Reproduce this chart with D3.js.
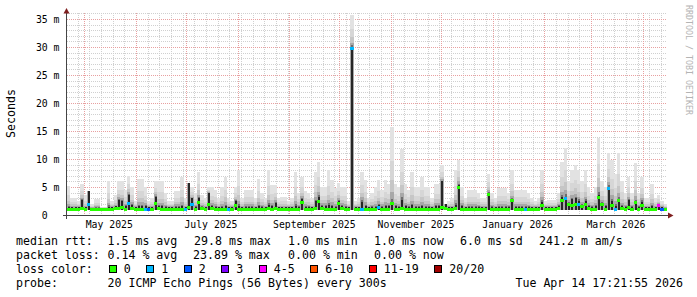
<!DOCTYPE html>
<html><head><meta charset="utf-8">
<script src="https://cdn.jsdelivr.net/npm/d3@7"></script>
<style>
body{margin:0;background:#fff}
svg{display:block}
text{font-family:"DejaVu Sans Mono",monospace;fill:#000}
</style>
</head><body>
<svg id="c" width="697" height="297"></svg>
<script>
// ---------------- data ----------------
const xStart = new Date(Date.UTC(2025, 3, 20, 15, 0, 0));
const spanDays = 360;
const bucketDays = 2;

// top of the smoke (slowest pings), ms, one value per 2-day bucket
const smokeHi = [
 5.2,3.0,3.0,2.5,5.6,3.5,4.3,2.0,2.9,2.9,
 1.5,1.5,6.0,2.5,3.5,6.0,6.0,4.5,7.0,5.0,
 2.5,6.4,6.4,5.0,2.5,3.0,6.0,6.0,6.0,4.0,
 2.5,2.5,4.2,4.2,6.8,3.0,5.8,5.0,4.0,7.7,
 3.5,3.0,5.0,5.0,4.5,3.0,5.0,6.8,3.0,2.5,
 5.0,8.0,3.0,4.5,4.5,4.5,3.0,6.5,4.0,3.0,
 8.0,5.4,5.4,3.0,3.3,3.3,2.5,3.0,7.7,4.0,
 6.8,4.2,4.0,3.0,7.7,9.5,5.0,5.0,8.0,6.2,
 4.8,5.8,5.0,5.0,2.5,35.7,2.5,3.0,7.7,6.2,
 3.0,4.0,5.0,6.2,4.5,6.2,5.5,15.8,5.5,5.0,
 11.7,5.5,4.5,7.7,5.0,5.0,6.8,5.0,5.0,3.0,
 5.6,5.6,8.9,2.0,2.5,3.0,8.0,9.8,5.0,3.0,
 4.5,4.5,4.5,4.0,3.0,3.0,7.4,4.0,3.0,4.8,
 4.8,4.8,4.0,8.0,4.5,4.5,4.5,4.5,4.0,3.0,
 2.5,3.0,8.0,2.5,2.7,2.7,2.7,4.0,9.5,11.9,
 6.0,8.0,8.9,8.0,6.0,8.0,5.0,4.0,5.0,13.7,
 6.0,5.0,11.0,9.8,7.4,11.0,6.0,4.0,6.8,4.0,
 9.2,4.0,6.8,3.0,3.0,5.6,3.0,3.6,2.5,2.0];

// top of the dark smoke core, ms
const smokeCore = [
 1.4,1.4,1.4,1.4,2.7,1.4,4.2,1.3,1.3,1.3,
 1.2,1.2,1.5,1.4,1.6,2.7,2.5,1.6,3.6,1.8,
 1.4,1.6,1.6,1.6,1.4,1.4,3.3,1.6,1.6,1.5,
 1.4,1.4,1.5,1.5,1.6,1.4,5.7,3.0,1.5,3.0,
 1.5,1.4,3.9,1.6,1.5,1.4,1.5,1.6,1.4,1.4,
 2.5,1.6,1.4,1.5,1.5,1.5,1.4,1.6,1.5,1.4,
 1.8,1.6,2.2,1.4,1.4,1.4,1.4,1.4,1.6,1.5,
 2.8,1.5,1.5,1.4,2.5,3.3,1.6,1.6,1.8,1.6,
 1.5,2.5,1.6,1.5,1.4,30.0,1.4,1.4,2.4,1.6,
 1.4,1.5,1.5,1.8,1.5,1.6,1.6,2.2,1.6,1.5,
 2.7,1.6,1.5,1.7,1.5,1.5,1.6,1.5,1.5,1.4,
 1.6,1.6,6.0,2.0,1.4,1.4,1.8,5.4,1.6,1.4,
 1.5,1.5,1.5,1.5,1.4,1.4,3.9,1.5,1.4,1.5,
 1.5,1.5,1.5,2.7,1.5,1.5,1.5,1.5,1.5,1.4,
 1.4,1.4,2.4,1.4,1.4,1.4,1.4,1.6,3.3,3.3,
 2.2,2.8,3.0,2.5,1.8,2.5,1.6,1.5,1.6,3.6,
 2.2,1.6,5.0,2.5,1.6,2.8,1.6,1.5,2.7,1.5,
 2.4,1.5,2.4,1.4,1.4,1.6,1.4,1.9,1.4,1.3];

// median rtt, ms
const medianMs = [
 1.1,1.1,1.1,1.1,1.2,1.1,2.0,1.1,1.1,1.1,
 1.1,1.1,1.1,1.1,1.2,1.3,1.5,1.1,2.2,1.2,
 1.1,1.1,1.1,1.0,1.0,1.1,2.1,1.2,1.1,1.1,
 1.1,1.1,1.1,1.1,1.1,1.0,1.5,2.0,1.1,2.4,
 1.2,1.1,2.0,1.2,1.1,1.1,1.1,1.1,1.0,1.1,
 1.8,1.1,1.1,1.1,1.1,1.1,1.1,1.1,1.1,1.1,
 1.2,1.1,1.3,1.1,1.1,1.1,1.1,1.1,1.1,1.1,
 2.3,1.1,1.1,1.1,1.3,2.5,1.2,1.1,1.1,1.1,
 1.1,2.2,1.2,1.1,1.1,29.8,1.1,1.1,1.0,1.1,
 1.1,1.1,1.1,1.5,1.1,1.1,1.1,2.1,1.1,1.1,
 1.3,1.1,1.1,1.1,1.1,1.1,1.1,1.1,1.1,1.1,
 1.1,1.1,1.5,1.2,1.1,1.1,1.2,5.0,1.1,1.1,
 1.1,1.1,1.1,1.1,1.1,1.1,3.8,1.1,1.1,1.1,
 1.1,1.1,1.1,2.6,1.1,1.1,1.1,1.0,1.1,1.1,
 1.1,1.1,1.8,1.1,1.1,1.1,1.1,1.2,2.6,3.1,
 2.0,1.8,2.0,2.0,1.6,1.9,1.2,1.1,1.1,3.3,
 2.0,1.1,4.9,1.8,1.0,2.6,1.2,1.1,1.5,1.1,
 2.3,1.1,1.8,1.1,1.1,1.1,1.1,1.8,1.0,1.1];

// loss class index into lossLabels
const lossIdx = [
 0,0,0,0,0,0,1,0,0,0,
 0,0,0,0,0,0,0,0,1,0,
 0,0,0,1,2,0,0,0,0,0,
 0,0,0,0,0,1,0,1,0,0,
 0,0,0,0,0,0,0,0,1,0,
 0,0,0,0,0,0,0,0,0,0,
 0,0,0,0,0,0,0,0,0,0,
 0,0,0,0,0,0,0,0,0,0,
 0,0,0,0,0,1,0,0,1,0,
 0,0,0,1,0,0,0,0,0,0,
 0,0,0,0,0,0,0,0,0,0,
 0,0,0,0,0,0,0,0,0,0,
 0,0,0,0,0,0,0,0,0,0,
 0,0,0,0,0,0,0,1,0,0,
 0,0,0,0,0,0,0,0,0,1,
 0,0,0,1,0,0,0,0,0,0,
 0,0,1,0,1,0,0,0,0,0,
 0,0,0,0,0,0,0,4,2,0];

const minPingMs = 0.9;
const yTicks = [0,5,10,15,20,25,30,35];
const yTickLabels = ["0","5 m","10 m","15 m","20 m","25 m","30 m","35 m"];
const xLabelMonths = [[2025,4],[2025,6],[2025,8],[2025,10],[2026,0],[2026,2]];
const xLabelTexts = ["May 2025","July 2025","September 2025","November 2025","January 2026","March 2026"];
const lossLabels = ["0","1","2","3","4-5","6-10","11-19","20/20"];
const lossColors = ["#26ff00","#00b8ff","#0059ff","#7e00ff","#ff00ff","#ff5500","#ff0000","#a10000"];

// ---------------- drawing ----------------
const svg = d3.select("#c");
const xEnd = d3.utcDay.offset(xStart, spanDays);
const x = d3.scaleUtc().domain([xStart, xEnd]).range([67, 667]);
const y = d3.scaleLinear().domain([0, 36.07]).range([215, 13]);
const yTop = 13, yBot = 215;

svg.append("rect").attr("width",697).attr("height",297).attr("fill","#fff");

// grid
const grid = svg.append("g").attr("shape-rendering","crispEdges");
const minorY = d3.range(1, 37).filter(v => v % 5 !== 0 && y(v) >= yTop);
grid.selectAll(".hmin").data(minorY).join("line")
  .attr("x1",67).attr("x2",667)
  .attr("y1",d=>Math.round(y(d))+0.5).attr("y2",d=>Math.round(y(d))+0.5)
  .attr("stroke","#d0d0d0").attr("stroke-dasharray","1,1");
const weeks = d3.utcSunday.range(xStart, xEnd).filter(d => +d3.utcMonth.floor(d) !== +d);
grid.selectAll(".vmin").data(weeks).join("line")
  .attr("x1",d=>Math.round(x(d))+0.5).attr("x2",d=>Math.round(x(d))+0.5)
  .attr("y1",yTop).attr("y2",yBot)
  .attr("stroke","#d0d0d0").attr("stroke-dasharray","1,1");
grid.selectAll(".hmaj").data(yTicks.filter(v=>v>0)).join("line")
  .attr("x1",67).attr("x2",667)
  .attr("y1",d=>Math.round(y(d))+0.5).attr("y2",d=>Math.round(y(d))+0.5)
  .attr("stroke","#e8a0a0").attr("stroke-dasharray","1,1");
const months = d3.utcMonth.range(d3.utcMonth.ceil(xStart), xEnd);
grid.selectAll(".vmaj").data(months).join("line")
  .attr("x1",d=>Math.round(x(d))+0.5).attr("x2",d=>Math.round(x(d))+0.5)
  .attr("y1",yTop).attr("y2",yBot)
  .attr("stroke","#e8a0a0").attr("stroke-dasharray","1,1");

// smoke
const bands = [
  {f:1.00, c:"#e2e2e2", narrow:false},
  {f:0.55, c:"#d6d6d6", narrow:false},
  {f:0.30, c:"#c6c6c6", narrow:false},
  {f:0.14, c:"#a8a8a8", narrow:false},
  {f:0.05, c:"#6e6e6e", narrow:true},
  {f:0.00, c:"#262626", narrow:true}
];
const buckets = smokeHi.map((hi,i)=>({
  i, hi, core: smokeCore[i], med: medianMs[i], loss: lossIdx[i],
  t0: d3.utcDay.offset(xStart, i*bucketDays),
  t1: d3.utcDay.offset(xStart, (i+1)*bucketDays)
}));
const data = svg.append("g").attr("shape-rendering","crispEdges");
const bx0 = d=>Math.round(x(d.t0)), bx1 = d=>Math.round(x(d.t1));
bands.forEach(b=>{
  data.append("g").selectAll("rect").data(buckets).join("rect")
    .attr("x", d=> b.narrow ? bx0(d)+1 : bx0(d))
    .attr("width", d=> b.narrow ? 2 : bx1(d)-bx0(d))
    .attr("y", d=>{const top = d.core + (d.hi-d.core)*b.f; return Math.round(y(Math.min(top, 36.07)));})
    .attr("height", d=>{const top = d.core + (d.hi-d.core)*b.f; return Math.max(0, Math.round(y(minPingMs)) - Math.round(y(Math.min(top,36.07))));})
    .attr("fill", b.c);
});
// median
data.append("g").selectAll("rect").data(buckets).join("rect")
  .attr("x", d=>bx0(d))
  .attr("width", d=>bx1(d)-bx0(d))
  .attr("y", d=>Math.round(y(d.med))-1)
  .attr("height", 3)
  .attr("fill", d=>lossColors[d.loss]);

// axes
const ax = svg.append("g").attr("shape-rendering","crispEdges");
ax.append("line").attr("x1",63).attr("x2",669).attr("y1",215.5).attr("y2",215.5).attr("stroke","#444");
ax.append("line").attr("x1",66.5).attr("x2",66.5).attr("y1",219).attr("y2",12).attr("stroke","#444");
svg.append("path").attr("d","M66.5,8 L69.5,13.5 L63.5,13.5 Z").attr("fill","#7f1f1f");
svg.append("path").attr("d","M673.5,215.5 L668,212.5 L668,218.5 Z").attr("fill","#7f1f1f");

// y tick labels
svg.append("g").selectAll("text").data(yTicks).join("text")
  .attr("x", (d,i)=> d===0 ? 47.7 : 59.5)
  .attr("y", d=>y(d)+3.6)
  .attr("text-anchor","end")
  .attr("font-size","9.8px")
  .text((d,i)=>yTickLabels[i]);

// x labels (centered half a month after the month start)
svg.append("g").selectAll("text").data(xLabelMonths).join("text")
  .attr("x", d=>x(d3.utcDay.offset(new Date(Date.UTC(d[0],d[1],1)),15)))
  .attr("y", 228)
  .attr("text-anchor","middle")
  .attr("font-size","9.8px")
  .text((d,i)=>xLabelTexts[i]);

// y title
svg.append("text").attr("transform","translate(15,113.5) rotate(-90)")
  .attr("text-anchor","middle").attr("font-size","11.6px").text("Seconds");

// watermark
svg.append("text").attr("transform","translate(686,5) rotate(90)")
  .attr("font-size","8px").attr("textLength",110).attr("lengthAdjust","spacingAndGlyphs")
  .style("fill","#b4b4b4").text("RRDTOOL / TOBI OETIKER");

// legend
const lf = "11.6px";
const rows = [
  {yb:245, items:[[16,"median rtt:"],[107.5,"1.5 ms avg"],[194,"29.8 ms max"],[288,"1.0 ms min"],[374,"1.0 ms now"],[460,"6.0 ms sd"],[539,"241.2 m am/s"]]},
  {yb:259, items:[[16,"packet loss:"],[107.5,"0.14 % avg"],[193,"23.89 % max"],[288,"0.00 % min"],[374,"0.00 % now"]]},
  {yb:273, items:[[16,"loss color:"]]},
  {yb:287, items:[[16,"probe:"],[107.5,"20 ICMP Echo Pings (56 Bytes) every 300s"]]}
];
const leg = svg.append("g");
rows.forEach(r=>{
  r.items.forEach(it=>{
    leg.append("text").attr("x",it[0]).attr("y",r.yb).attr("font-size",lf).text(it[1]);
  });
});
leg.append("text").attr("x",683).attr("y",287).attr("text-anchor","end").attr("font-size",lf)
  .text("Tue Apr 14 17:21:55 2026");

// loss colour boxes
let bx = 108.5;
const lossPos = lossLabels.map(l=>{ const p = bx; bx += 30.5 + l.length*7; return p; });
const lg = leg.append("g");
lg.selectAll("rect").data(lossLabels).join("rect")
  .attr("x",(d,i)=>Math.round(lossPos[i])+0.5).attr("y",265.5)
  .attr("width",7).attr("height",7)
  .attr("fill",(d,i)=>lossColors[i]).attr("stroke","#000").attr("stroke-width",1)
  .attr("shape-rendering","crispEdges");
lg.selectAll("text").data(lossLabels).join("text")
  .attr("x",(d,i)=>lossPos[i]+15.3).attr("y",273).attr("font-size",lf).text(d=>d);
</script>
</body></html>
